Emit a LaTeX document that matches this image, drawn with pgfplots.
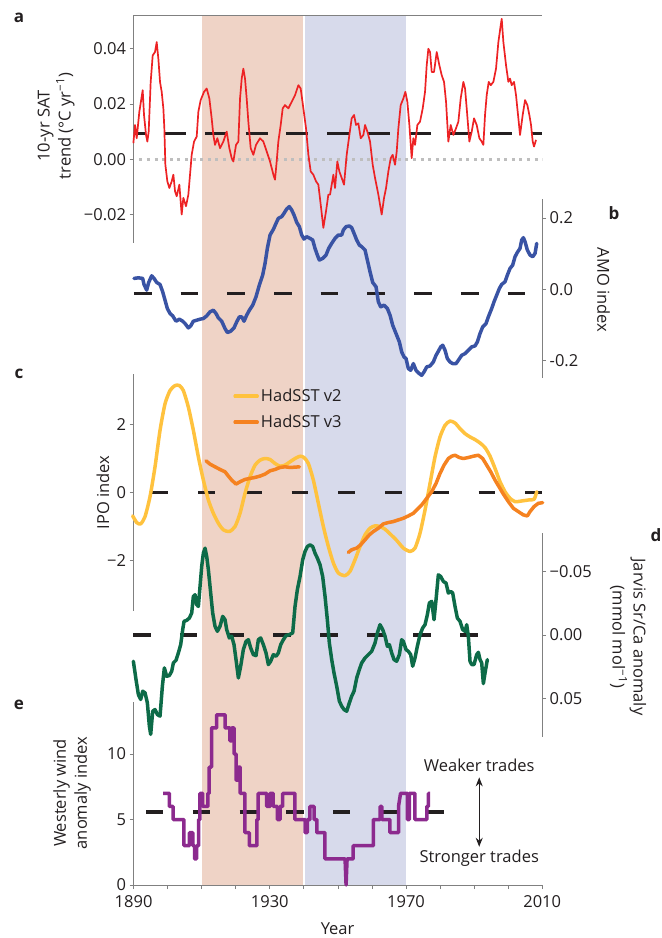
\documentclass[border=0pt]{standalone}
\usepackage{fontspec}
\setmainfont{Open Sans}
\usepackage{pgfplots}
\pgfplotsset{compat=1.18}
\usetikzlibrary{arrows.meta}
\definecolor{salmon}{HTML}{EFD3C6}
\definecolor{lav}{HTML}{D7DAEB}
\definecolor{sred}{HTML}{ED2224}
\definecolor{sblue}{HTML}{3953A4}
\definecolor{syellow}{HTML}{FFC23E}
\definecolor{sorange}{HTML}{F58220}
\definecolor{sgreen}{HTML}{0D6B48}
\definecolor{spurple}{HTML}{8C2A8E}
\definecolor{dk}{HTML}{231F20}
\definecolor{axgray}{HTML}{808080}
\definecolor{dotgray}{HTML}{BEBEBE}
\newcommand\fs{\fontsize{16.5bp}{21bp}\selectfont}
\pgfplotsset{
  base/.style={scale only axis, width=408.6bp, xmin=1890, xmax=2010, clip=false,
    anchor=south west, tick align=outside, major tick length=4bp,
    scaled y ticks=false, scaled x ticks=false,
    every tick/.style={axgray, line width=0.8bp},
    axis line style={axgray, line width=0.9bp},
    tick label style={font=\fs, text=dk},
    /pgf/number format/assume math mode=true},
  thick line/.style={line width=3.5bp, line join=round, line cap=round},
}
\begin{document}
\begin{tikzpicture}[x=1bp,y=1bp]
\path[use as bounding box] (0bp,0bp) rectangle (662bp,-938bp);
% background shading
\begin{axis}[base, at={(133.6bp,-885bp)}, height=870bp, ymin=0, ymax=1, hide axis]
\addplot[fill=salmon, draw=none] coordinates {(1910.0,1) (1939.66,1)} \closedcycle;
\addplot[fill=lav, draw=none] coordinates {(1940.35,1) (1970.0,1)} \closedcycle;
\end{axis}
% panel a
\begin{axis}[base, at={(133.6bp,-242.7bp)}, height=227.7bp, ymin=-0.0302, ymax=0.0522,
  axis y line*=left, axis x line*=top, xtick=\empty,
  ytick={-0.02,0,0.02,0.04}, yticklabels={−0.02,0.00,0.02,0.04}]
\addplot[dotgray, line width=3.3bp, dash pattern=on 3bp off 4.6bp] coordinates {(1891.7,0) (2010,0)};
\addplot[dk, line width=3.3bp, dash pattern=on 22bp off 18.7bp, dash phase=10bp] coordinates {(1890,0.0094) (2010,0.0094)};
\addplot[sred, line width=1.7bp, line join=round] coordinates {
(1889.93,0.0058)(1890.42,0.0124)(1890.91,0.0076)(1891.69,0.0172)(1892.67,0.0250)(1893.06,0.0160)(1893.65,0.0088)(1894.04,0.0064)(1894.43,0.0100)(1895.02,0.0280)(1895.61,0.0376)(1896.29,0.0388)(1896.78,0.0424)(1897.27,0.0364)(1897.76,0.0280)(1898.25,0.0244)(1898.74,0.0184)(1899.03,0.0112)(1899.33,-0.0020)(1899.91,-0.0080)(1900.50,-0.0104)(1901.19,-0.0080)(1901.68,-0.0056)(1902.17,-0.0116)(1902.66,-0.0134)(1903.44,-0.0092)(1904.12,-0.0200)(1904.61,-0.0140)(1905.40,-0.0170)(1906.08,-0.0128)(1906.57,-0.0056)(1907.06,0.0016)(1907.75,0.0064)(1908.53,0.0082)(1909.02,0.0172)(1909.70,0.0214)(1910.68,0.0244)(1911.47,0.0256)(1912.25,0.0220)(1912.93,0.0148)(1913.42,0.0088)(1913.91,0.0052)(1914.60,0.0076)(1915.38,0.0040)(1916.36,0.0064)(1917.34,0.0100)(1918.12,0.0040)(1918.81,0.0004)(1919.30,-0.0008)(1920.08,0.0052)(1920.77,0.0064)(1921.26,0.0220)(1921.75,0.0292)(1922.23,0.0328)(1922.72,0.0292)(1923.21,0.0220)(1923.70,0.0136)(1924.39,0.0040)(1925.17,0.0016)(1925.95,0.0052)(1927.13,0.0076)(1928.11,0.0064)(1929.09,0.0028)(1930.07,-0.0008)(1931.05,-0.0056)(1931.53,-0.0074)(1932.02,-0.0008)(1932.51,0.0064)(1933.20,0.0124)(1933.79,0.0184)(1934.47,0.0196)(1935.45,0.0184)(1936.43,0.0208)(1937.41,0.0232)(1938.39,0.0268)(1939.07,0.0256)(1939.86,0.0184)(1940.64,0.0112)(1941.33,0.0016)(1942.01,-0.0044)(1942.79,-0.0056)(1943.58,-0.0080)(1944.26,-0.0092)(1944.95,-0.0164)(1945.73,-0.0248)(1946.51,-0.0188)(1947.20,-0.0128)(1947.69,-0.0128)(1948.67,-0.0056)(1949.16,-0.0104)(1949.84,-0.0008)(1950.43,-0.0044)(1951.12,-0.0068)(1951.80,-0.0092)(1952.58,0.0016)(1953.37,0.0088)(1954.05,0.0148)(1954.74,0.0160)(1955.33,0.0124)(1956.01,0.0130)(1956.70,0.0076)(1957.48,0.0088)(1957.97,0.0124)(1958.65,0.0100)(1959.44,0.0064)(1960.22,-0.0020)(1960.91,-0.0068)(1961.88,-0.0128)(1962.37,-0.0164)(1962.86,-0.0200)(1963.55,-0.0140)(1964.14,-0.0104)(1964.82,-0.0044)(1965.51,0.0004)(1966.09,0.0016)(1966.78,-0.0020)(1967.27,0.0028)(1967.76,0.0112)(1968.44,0.0196)(1969.23,0.0220)(1969.81,0.0244)(1970.40,0.0208)(1970.99,0.0124)(1971.67,0.0004)(1972.16,0.0076)(1972.65,0.0052)(1973.34,0.0124)(1974.12,0.0136)(1974.91,0.0184)(1975.59,0.0244)(1976.08,0.0340)(1976.57,0.0400)(1977.06,0.0388)(1977.55,0.0316)(1978.23,0.0316)(1979.02,0.0388)(1979.80,0.0340)(1980.49,0.0304)(1981.17,0.0280)(1981.76,0.0208)(1982.44,0.0064)(1983.13,0.0124)(1983.91,0.0088)(1984.69,0.0112)(1985.38,0.0136)(1986.06,0.0220)(1986.85,0.0280)(1987.34,0.0256)(1987.83,0.0184)(1988.61,0.0064)(1989.30,0.0100)(1989.98,0.0148)(1990.76,0.0124)(1991.55,0.0076)(1992.23,0.0064)(1992.72,0.0052)(1993.21,0.0160)(1993.70,0.0232)(1994.29,0.0280)(1994.88,0.0268)(1995.66,0.0280)(1996.44,0.0328)(1997.13,0.0424)(1997.81,0.0484)(1998.11,0.0508)(1998.60,0.0424)(1999.38,0.0340)(2000.06,0.0280)(2000.55,0.0292)(2001.04,0.0268)(2001.73,0.0280)(2002.31,0.0232)(2003.00,0.0148)(2003.49,0.0088)(2004.27,0.0160)(2004.96,0.0214)(2005.64,0.0196)(2006.23,0.0160)(2006.72,0.0124)(2007.21,0.0064)(2007.60,0.0046)(2008.19,0.0070)};
\end{axis}
% panel b
\begin{axis}[base, at={(133.6bp,-377.7bp)}, height=178.4bp, ymin=-0.248, ymax=0.2525,
  axis y line*=right, axis x line=none,
  ytick={-0.2,0,0.2}, yticklabels={-0.2,0.0,0.2}]
\addplot[dk, line width=3.3bp, dash pattern=on 17.7bp off 29bp] coordinates {(1890.1,-0.0126) (2008.9,-0.0126)};
\addplot[sblue, thick line] coordinates {
(1890.12,0.0305)(1891.40,0.0323)(1892.67,0.0305)(1893.06,0.0136)(1893.84,-0.0023)(1894.43,0.0192)(1895.31,0.0379)(1896.00,0.0305)(1896.78,0.0192)(1897.76,0.0136)(1898.54,-0.0070)(1899.23,-0.0305)(1899.91,-0.0539)(1900.70,-0.0679)(1901.48,-0.0745)(1902.46,-0.0895)(1903.44,-0.0839)(1904.42,-0.0895)(1905.10,-0.0960)(1906.08,-0.1082)(1906.77,-0.1026)(1907.55,-0.0895)(1908.53,-0.0867)(1909.51,-0.0839)(1910.49,-0.0820)(1911.47,-0.0745)(1912.45,-0.0632)(1913.42,-0.0586)(1914.21,-0.0679)(1914.89,-0.0801)(1915.87,-0.0895)(1916.85,-0.1101)(1917.54,-0.1213)(1918.51,-0.1176)(1919.49,-0.1082)(1920.28,-0.0914)(1921.06,-0.0773)(1921.75,-0.0773)(1922.43,-0.0895)(1923.21,-0.0726)(1924.00,-0.0586)(1924.98,-0.0445)(1925.95,-0.0211)(1926.93,0.0117)(1927.91,0.0398)(1928.60,0.0726)(1929.28,0.1148)(1930.07,0.1523)(1931.05,0.1682)(1931.83,0.1851)(1932.51,0.1991)(1933.49,0.2038)(1934.18,0.2132)(1934.96,0.2253)(1935.74,0.2319)(1936.43,0.2225)(1937.11,0.2085)(1937.90,0.1879)(1938.68,0.1757)(1939.37,0.1523)(1940.05,0.1410)(1940.83,0.1476)(1941.81,0.1429)(1942.60,0.1382)(1943.28,0.1148)(1943.97,0.0960)(1944.55,0.0820)(1945.53,0.0867)(1946.51,0.0960)(1947.30,0.1148)(1948.18,0.1288)(1949.16,0.1429)(1950.13,0.1523)(1951.11,0.1523)(1951.60,0.1663)(1952.39,0.1757)(1953.37,0.1776)(1954.05,0.1729)(1954.74,0.1569)(1955.52,0.1382)(1956.30,0.1242)(1956.99,0.1195)(1957.97,0.1101)(1958.65,0.0820)(1959.44,0.0492)(1960.22,0.0192)(1961.20,0.0070)(1961.88,-0.0351)(1962.57,-0.0492)(1963.55,-0.0445)(1964.53,-0.0539)(1965.31,-0.0726)(1966.09,-0.1007)(1967.07,-0.1241)(1968.05,-0.1476)(1968.73,-0.1757)(1969.42,-0.1897)(1970.01,-0.1944)(1970.69,-0.2225)(1971.38,-0.2272)(1972.16,-0.2085)(1972.94,-0.2272)(1973.92,-0.2366)(1974.61,-0.2413)(1975.29,-0.2319)(1976.08,-0.2178)(1977.06,-0.2150)(1978.03,-0.2038)(1978.82,-0.1851)(1979.50,-0.1738)(1980.19,-0.1616)(1980.78,-0.1569)(1981.46,-0.1710)(1982.15,-0.1944)(1982.93,-0.2038)(1983.71,-0.2085)(1984.69,-0.2085)(1985.38,-0.1991)(1986.36,-0.1851)(1987.34,-0.1804)(1988.31,-0.1710)(1989.29,-0.1616)(1990.27,-0.1588)(1990.96,-0.1476)(1991.74,-0.1241)(1992.52,-0.1054)(1993.50,-0.0960)(1994.19,-0.0773)(1995.17,-0.0539)(1995.85,-0.0351)(1996.63,-0.0164)(1997.42,0.0023)(1998.10,0.0136)(1999.08,0.0211)(1999.77,0.0398)(2000.55,0.0586)(2001.33,0.0679)(2002.02,0.0914)(2002.70,0.1035)(2003.49,0.1148)(2003.98,0.1382)(2004.47,0.1448)(2004.96,0.1335)(2005.64,0.1101)(2006.43,0.0960)(2007.21,0.0914)(2007.90,0.1007)(2008.39,0.1288)};
\end{axis}
% panel c
\begin{axis}[base, at={(133.6bp,-610.7bp)}, height=236.7bp, ymin=-3.47, ymax=3.47,
  axis y line*=left, axis x line=none,
  ytick={-2,0,2}, yticklabels={−2,0,2},
  legend style={at={(0.244,0.945)}, anchor=north west, draw=none, fill=none,
    font=\fs, text=dk, row sep=8bp, inner sep=0pt, cells={anchor=west}},
  legend image code/.code={\draw[#1, line width=3.5bp] (0bp,0bp) -- (15bp,0bp); \path (0bp,0bp) -- (22bp,0bp);}]
\addplot[forget plot, dk, line width=3.3bp, dash pattern=on 16.7bp off 30bp] coordinates {(1895.3,0) (2010.2,0)};
\addplot[syellow, thick line, smooth, tension=0.4] coordinates {
(1889.73,-0.69)(1890.91,-0.885)(1892.08,-0.924)(1893.36,-0.71)(1894.82,-0.126)(1896.29,0.749)(1897.76,1.819)(1899.23,2.597)(1900.70,2.986)(1902.17,3.132)(1903.44,3.132)(1904.61,2.986)(1906.08,2.5)(1907.55,1.819)(1909.02,1.041)(1910.49,0.36)(1911.96,-0.224)(1913.42,-0.613)(1914.89,-0.905)(1916.36,-1.099)(1918.12,-1.148)(1919.79,-1.002)(1921.26,-0.613)(1922.72,-0.029)(1924.19,0.457)(1925.66,0.798)(1927.13,0.944)(1928.60,0.992)(1930.07,0.963)(1931.53,0.846)(1933.00,0.768)(1934.47,0.798)(1935.94,0.895)(1937.41,0.992)(1938.88,1.06)(1940.05,1.021)(1941.33,0.846)(1942.79,0.36)(1944.26,-0.321)(1945.73,-1.002)(1947.20,-1.586)(1948.67,-2.072)(1950.13,-2.364)(1952.09,-2.442)(1953.56,-2.315)(1955.03,-1.975)(1956.50,-1.586)(1957.97,-1.245)(1959.44,-1.051)(1960.90,-0.982)(1962.37,-1.002)(1963.84,-1.08)(1965.31,-1.216)(1967.27,-1.41)(1969.22,-1.634)(1971.18,-1.732)(1972.65,-1.634)(1974.12,-1.196)(1975.59,-0.516)(1977.06,0.263)(1978.52,1.041)(1979.99,1.625)(1981.46,1.965)(1982.93,2.091)(1984.40,2.033)(1985.87,1.868)(1987.34,1.722)(1988.80,1.625)(1990.27,1.547)(1991.74,1.449)(1993.21,1.313)(1994.68,1.06)(1996.15,0.7)(1997.62,0.311)(1999.08,0.019)(2000.55,-0.175)(2002.02,-0.272)(2003.98,-0.253)(2005.94,-0.224)(2007.60,-0.204)(2008.39,0.019)};
\addlegendentry{HadSST v2}
\addplot[sorange, thick line] coordinates {
(1911.27,0.924)(1912.45,0.827)(1913.91,0.749)(1915.38,0.671)(1916.85,0.603)(1917.83,0.477)(1918.81,0.36)(1920.08,0.243)(1921.26,0.311)(1922.72,0.379)(1924.19,0.409)(1925.66,0.438)(1927.13,0.477)(1928.60,0.535)(1930.07,0.632)(1931.53,0.671)(1933.00,0.73)(1934.47,0.749)(1935.94,0.73)(1937.41,0.739)(1938.68,0.749)};
\addlegendentry{HadSST v3}
\addplot[forget plot, sorange, thick line] coordinates {
(1953.07,-1.761)(1954.05,-1.683)(1955.52,-1.634)(1956.69,-1.537)(1957.97,-1.391)(1959.24,-1.245)(1960.41,-1.148)(1961.88,-1.051)(1963.35,-0.924)(1964.82,-0.885)(1966.29,-0.856)(1967.76,-0.807)(1969.22,-0.759)(1970.69,-0.691)(1972.16,-0.613)(1973.34,-0.496)(1974.61,-0.37)(1976.08,-0.175)(1977.55,0.019)(1978.82,0.263)(1979.99,0.554)(1981.17,0.798)(1982.44,0.992)(1983.42,1.06)(1984.40,1.089)(1985.67,1.021)(1986.85,0.992)(1988.31,1.021)(1989.78,1.06)(1991.25,1.089)(1992.52,0.992)(1993.70,0.798)(1994.88,0.603)(1996.15,0.36)(1997.42,0.146)(1998.59,-0.049)(2000.06,-0.272)(2001.53,-0.467)(2002.99,-0.564)(2004.46,-0.661)(2005.64,-0.691)(2006.42,-0.564)(2007.60,-0.418)(2008.87,-0.321)(2010.14,-0.302)};
\end{axis}
% panel d
\begin{axis}[base, at={(133.6bp,-736.7bp)}, height=203.7bp, ymin=-0.08, ymax=0.0798, y dir=reverse,
  axis y line*=right, axis x line=none,
  ytick={-0.05,0,0.05}, yticklabels={−0.05,0.00,0.05}]
\addplot[dk, line width=3.3bp, dash pattern=on 17.5bp off 29.2bp] coordinates {(1889.9,0) (1996.8,0)};
\addplot[sgreen, thick line] coordinates {
(1889.93,0.0206)(1890.71,0.0350)(1891.40,0.0467)(1892.08,0.0506)(1892.67,0.0441)(1893.36,0.0454)(1894.04,0.0532)(1894.63,0.0715)(1895.02,0.0780)(1895.61,0.0598)(1896.29,0.0585)(1896.98,0.0624)(1897.76,0.0637)(1898.45,0.0402)(1899.03,0.0258)(1899.72,0.0324)(1900.50,0.0318)(1901.19,0.0284)(1901.68,0.0219)(1902.46,0.0198)(1903.14,0.0141)(1903.83,0.0076)(1904.42,-0.0042)(1904.81,-0.0107)(1905.59,-0.0115)(1906.38,-0.0133)(1907.06,-0.0172)(1907.55,-0.0303)(1908.04,-0.0316)(1908.53,-0.0238)(1909.02,-0.0224)(1909.51,-0.0381)(1910.00,-0.0538)(1910.49,-0.0642)(1910.98,-0.0681)(1911.47,-0.0616)(1911.96,-0.0512)(1912.64,-0.0329)(1913.23,-0.0172)(1913.91,-0.0068)(1914.60,-0.0029)(1915.38,-0.0068)(1916.17,-0.0146)(1916.85,-0.0120)(1917.34,-0.0042)(1918.12,0.0023)(1918.81,0.0010)(1919.49,0.0076)(1920.08,0.0193)(1920.77,0.0337)(1921.45,0.0245)(1922.23,0.0115)(1923.02,0.0050)(1923.70,0.0037)(1924.39,0.0102)(1925.17,0.0154)(1925.95,0.0162)(1926.64,0.0037)(1927.32,0.0023)(1928.11,0.0076)(1928.89,0.0141)(1929.58,0.0232)(1930.26,0.0206)(1931.05,0.0154)(1931.83,0.0167)(1932.51,0.0141)(1933.20,0.0076)(1933.98,0.0037)(1934.77,0.0005)(1935.74,-0.0003)(1936.72,-0.0016)(1937.41,-0.0224)(1938.09,-0.0355)(1938.88,-0.0459)(1939.66,-0.0590)(1940.35,-0.0655)(1941.03,-0.0694)(1941.81,-0.0707)(1942.60,-0.0694)(1943.28,-0.0642)(1943.97,-0.0603)(1944.75,-0.0551)(1945.53,-0.0459)(1946.22,-0.0303)(1946.90,-0.0120)(1947.49,0.0063)(1948.18,0.0193)(1948.86,0.0298)(1949.65,0.0402)(1950.43,0.0519)(1951.12,0.0559)(1951.80,0.0585)(1952.58,0.0598)(1953.37,0.0532)(1954.05,0.0480)(1954.74,0.0441)(1955.52,0.0337)(1956.30,0.0271)(1956.99,0.0219)(1957.97,0.0180)(1958.95,0.0154)(1959.92,0.0128)(1960.90,0.0063)(1961.59,-0.0016)(1962.37,-0.0081)(1963.16,-0.0042)(1963.84,0.0010)(1964.53,0.0089)(1965.11,0.0076)(1965.80,0.0141)(1966.48,0.0193)(1967.27,0.0206)(1968.05,0.0154)(1968.73,0.0037)(1969.22,0.0050)(1970.01,0.0115)(1970.69,0.0128)(1971.38,0.0154)(1971.96,0.0245)(1972.65,0.0180)(1973.33,0.0089)(1974.12,-0.0003)(1974.90,-0.0055)(1975.59,-0.0081)(1976.27,-0.0159)(1976.86,-0.0251)(1977.55,-0.0264)(1978.23,-0.0120)(1978.82,-0.0277)(1979.50,-0.0472)(1980.19,-0.0459)(1980.97,-0.0420)(1981.76,-0.0407)(1982.44,-0.0329)(1983.13,-0.0342)(1983.71,-0.0329)(1984.40,-0.0224)(1985.08,-0.0133)(1985.87,-0.0107)(1986.65,-0.0042)(1987.34,-0.0029)(1987.83,-0.0081)(1988.31,0.0010)(1988.80,0.0206)(1989.29,0.0232)(1989.98,0.0232)(1990.76,0.0154)(1991.25,0.0136)(1991.74,0.0193)(1992.23,0.0219)(1992.72,0.0381)(1993.21,0.0298)(1993.89,0.0193)};
\end{axis}
% panel e
\begin{axis}[base, at={(133.6bp,-885bp)}, height=182.7bp, ymin=0, ymax=13.95,
  axis y line*=left, axis x line*=bottom,
  ytick={0,5,10}, yticklabels={0,5,10},
  xtick={1890,1900,...,2010}, xticklabels={1890,,,,1930,,,,1970,,,,2010},
  xticklabel style={yshift=-3bp}]
\addplot[dk, line width=3.3bp, dash pattern=on 17.3bp off 29.4bp] coordinates {(1893.7,5.57) (1981.3,5.57)};
\addplot[spurple, line width=3.5bp, line join=round] coordinates {
(1898.7,7)(1900.5,7)(1900.5,6)(1901.6,6)(1901.6,5)(1904.8,5)(1904.8,3)(1906.4,3)(1906.4,4)(1907.4,4)(1907.4,3)(1907.9,3)(1907.9,2)(1908.5,2)(1908.5,3)(1909.1,3)(1909.1,5)(1909.5,5)(1909.5,7)(1910.3,7)(1910.3,6)(1911.8,6)(1911.8,7)(1912.2,7)(1912.2,9)(1912.9,9)(1912.9,12)(1914.4,12)(1914.4,13)(1916.85,13)(1916.85,12)(1918.3,12)(1918.3,11)(1918.8,11)(1918.8,12)(1919.5,12)(1919.5,10)(1920.1,10)(1920.1,8)(1920.8,8)(1920.8,9)(1921.3,9)(1921.3,7)(1922.7,7)(1922.7,4)(1924.0,4)(1924.0,3)(1926.2,3)(1926.2,5)(1926.6,5)(1926.6,7)(1929.1,7)(1929.1,6)(1930.1,6)(1930.1,7)(1931.0,7)(1931.0,6)(1932.2,6)(1932.2,5)(1933.0,5)(1933.0,6)(1933.8,6)(1933.8,7)(1937.4,7)(1937.4,5)(1940.35,5)(1940.35,4)(1941.0,4)(1941.0,5)(1941.8,5)(1941.8,6)(1943.0,6)(1943.0,5)(1943.8,5)(1943.8,4)(1946.2,4)(1946.2,2)(1952.1,2)(1952.4,0)(1952.7,2)(1954.5,2)(1954.5,3)(1960.4,3)(1960.4,5)(1962.4,5)(1962.4,6)(1962.9,6)(1962.9,5)(1965.3,5)(1965.3,4)(1967.8,4)(1967.8,6)(1968.4,7)(1970.4,7)(1970.4,5)(1971.0,5)(1971.0,7)(1972.6,7)(1972.6,5)(1976.1,5)(1976.1,6)(1976.6,6)(1976.6,7)(1977.1,7)};
\draw[dk, line width=1.1bp, {Stealth[length=9bp,width=7bp]}-{Stealth[length=9bp,width=7bp]}] (axis cs:1991.5,8.22) -- (axis cs:1991.5,2.92);
\node[font=\fs, text=dk] at (axis cs:1991.5,9.16) {Weaker trades};
\node[font=\fs, text=dk] at (axis cs:1991.5,2.04) {Stronger trades};
\end{axis}
% axis titles
\node[rotate=90, align=center, font=\fs, text=dk] at (56bp,-126bp) {10-yr SAT\\trend (°C yr\textsuperscript{−1})};
\node[rotate=-90, font=\fs, text=dk] at (603.6bp,-290bp) {AMO index};
\node[rotate=90, font=\fs, text=dk] at (103bp,-492.5bp) {IPO index};
\node[rotate=-90, align=center, font=\fs, text=dk] at (628bp,-637bp) {Jarvis Sr/Ca anomaly\\(mmol mol\textsuperscript{−1})};
\node[rotate=90, align=center, font=\fs, text=dk] at (72bp,-793bp) {Westerly wind\\anomaly index};
\node[font=\fs, text=dk, anchor=base] at (337.6bp,-934.5bp) {Year};
% panel letters
\node[font=\fontsize{17bp}{20bp}\selectfont\bfseries, text=dk] at (19bp,-18bp) {a};
\node[font=\fontsize{17bp}{20bp}\selectfont\bfseries, text=dk] at (614bp,-213bp) {b};
\node[font=\fontsize{17bp}{20bp}\selectfont\bfseries, text=dk] at (19bp,-374bp) {c};
\node[font=\fontsize{17bp}{20bp}\selectfont\bfseries, text=dk] at (656bp,-535bp) {d};
\node[font=\fontsize{17bp}{20bp}\selectfont\bfseries, text=dk] at (19bp,-705bp) {e};
\end{tikzpicture}
\end{document}
